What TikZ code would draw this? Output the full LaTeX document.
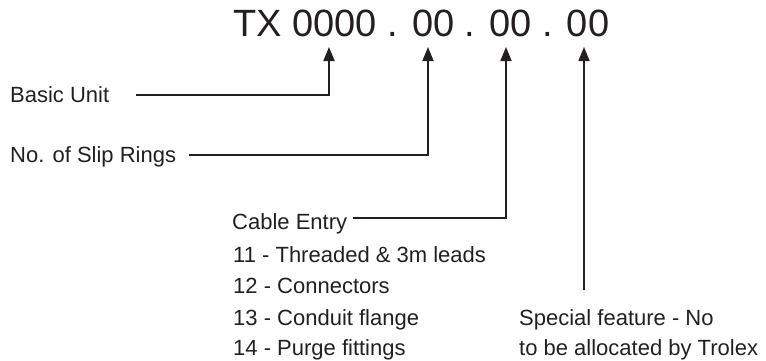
\documentclass[tikz,border=0pt]{standalone}
\usepackage{fontspec}
\setmainfont{Liberation Sans}
\usetikzlibrary{arrows.meta}
\definecolor{ink}{HTML}{231F20}
\begin{document}
\begin{tikzpicture}[x=1pt,y=-1pt,
  lbl/.style={inner sep=0pt,anchor=base west,text=ink,font=\fontsize{22}{26}\selectfont},
  titlestyle/.style={inner sep=0pt,anchor=base west,text=ink,font=\fontsize{38}{44}\selectfont},
  conn/.style={draw=ink,line width=1.8pt},
  arr/.style={conn,-{Triangle[width=11pt,length=14pt]}}]
\useasboundingbox (0,0) rectangle (766,360);
% title
\node[titlestyle] (code) at (233,36) {TX 0000 . 00 . 00 . 00};
\coordinate (tip1) at (329,47);
\coordinate (tip2) at (428,47);
\coordinate (tip3) at (506,47);
\coordinate (tip4) at (584,47);
% labels
\node[lbl] (basic) at (10,102) {Basic Unit};
\node[lbl] (slip) at (10,162) {No. of Slip Rings};
\node[lbl] (cable) at (232,229) {Cable Entry};
\node[lbl] (c11) at (233,262) {11 - Threaded \& 3m leads};
\node[lbl] (c12) at (233,293.5) {12 - Connectors};
\node[lbl] (c13) at (233,325) {13 - Conduit flange};
\node[lbl] (c14) at (233,355.5) {14 - Purge fittings};
\node[lbl] (spec1) at (519,325) {Special feature - No};
\node[lbl] (spec2) at (519,355.5) {to be allocated by Trolex};
\coordinate (f4) at (584,290);
% connectors
\draw[arr] ([xshift=27pt,yshift=7pt]basic.base east) -| (tip1);
\draw[arr] ([xshift=13pt,yshift=7pt]slip.base east) -| (tip2);
\draw[arr] ([xshift=6pt,yshift=11pt]cable.base east) -| (tip3);
\draw[arr] (f4) -- (tip4);
\end{tikzpicture}
\end{document}
